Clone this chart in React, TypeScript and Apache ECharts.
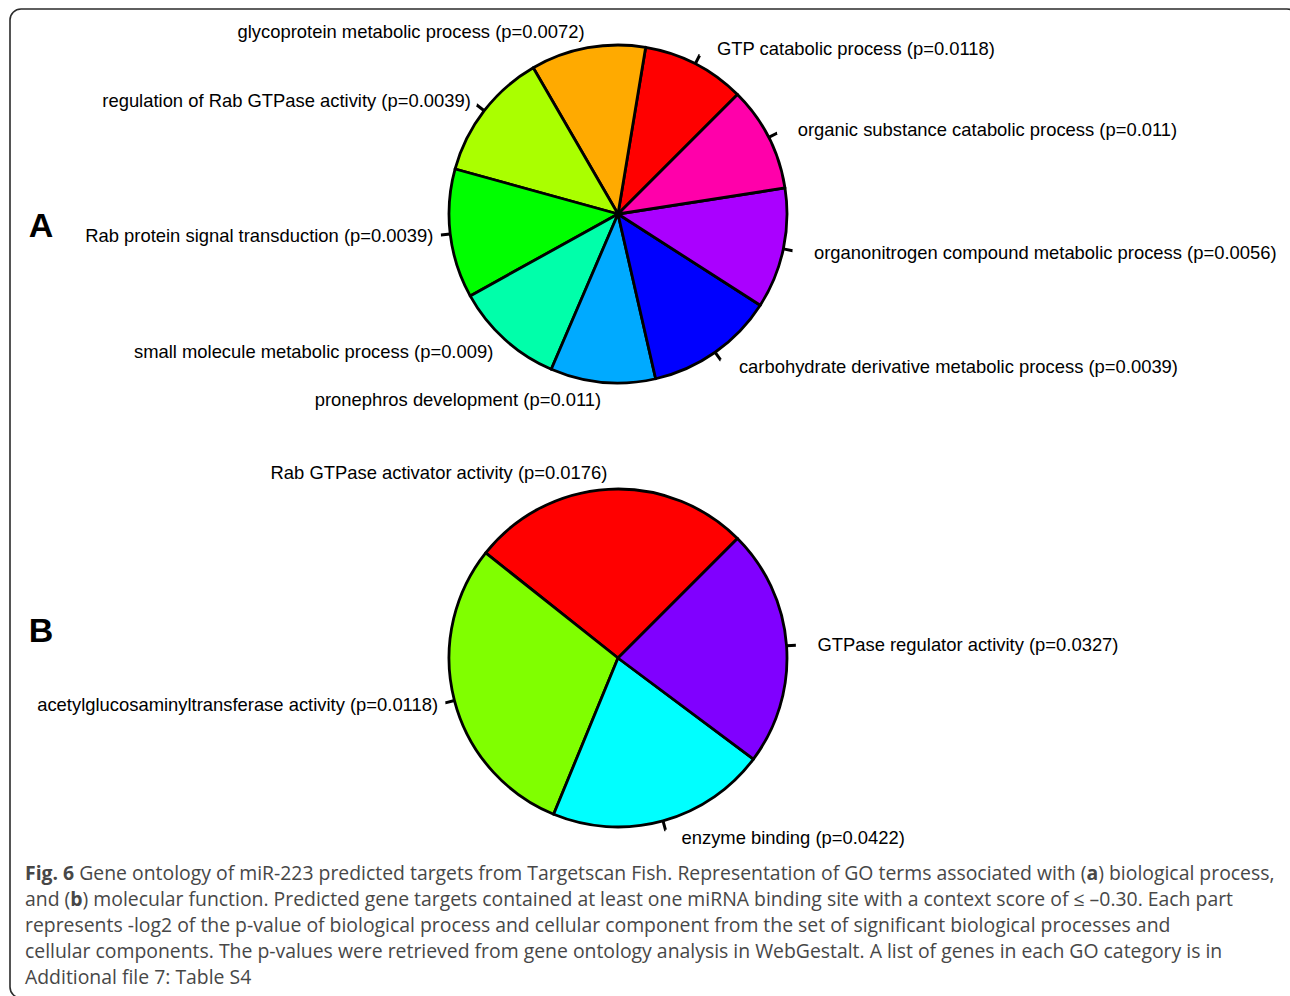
import React, { useEffect, useRef } from "react";
import * as echarts from "echarts";

// Panel A: biological process (slice size = -log2(p))
const termsA = [
  "GTP catabolic process",
  "glycoprotein metabolic process",
  "regulation of Rab GTPase activity",
  "Rab protein signal transduction",
  "small molecule metabolic process",
  "pronephros development",
  "carbohydrate derivative metabolic process",
  "organonitrogen compound metabolic process",
  "organic substance catabolic process",
];
const pValuesA = ["0.0118", "0.0072", "0.0039", "0.0039", "0.009", "0.011", "0.0039", "0.0056", "0.011"];
const valuesA = [6.405, 7.118, 8.002, 8.002, 6.796, 6.506, 8.002, 7.48, 6.506];
const colorsA = ["#FF0000", "#FFAA00", "#AAFF00", "#00FF00", "#00FFAA", "#00AAFF", "#0000FF", "#AA00FF", "#FF00AA"];

// Panel B: molecular function
const termsB = [
  "Rab GTPase activator activity",
  "acetylglucosaminyltransferase activity",
  "enzyme binding",
  "GTPase regulator activity",
];
const pValuesB = ["0.0176", "0.0118", "0.0422", "0.0327"];
const valuesB = [5.828, 6.405, 4.567, 4.935];
const colorsB = ["#FF0000", "#80FF00", "#00FFFF", "#8000FF"];

const panelLetters = ["A", "B"];

const captionLines = [
  "{b|Fig. 6} Gene ontology of miR-223 predicted targets from Targetscan Fish. Representation of GO terms associated with ({b|a}) biological process,",
  "and ({b|b}) molecular function. Predicted gene targets contained at least one miRNA binding site with a context score of \u2264 \u20130.30. Each part",
  "represents -log2 of the p-value of biological process and cellular component from the set of significant biological processes and",
  "cellular components. The p-values were retrieved from gene ontology analysis in WebGestalt. A list of genes in each GO category is in",
  "Additional file 7: Table S4",
];

const LABEL_FONT = "'Liberation Sans', Arial, Helvetica, sans-serif";
const CAPTION_FONT = "'Open Sans', 'Noto Sans', sans-serif";

function pieSeries(
  terms: string[],
  pvals: string[],
  values: number[],
  colors: string[],
  center: number[],
  radius: number
) {
  const common = {
    type: "pie",
    center,
    radius,
    startAngle: 45,
    clockwise: false,
    avoidLabelOverlap: false,
    silent: true,
    emphasis: { disabled: true },
  };
  const main = {
    ...common,
    z: 2,
    data: values.map((v, i) => ({
      name: `${terms[i]} (p=${pvals[i]})`,
      value: v,
      itemStyle: { color: colors[i] },
    })),
    itemStyle: { borderColor: "#000", borderWidth: 2.8 },
    label: {
      show: true,
      position: "outside",
      formatter: "{b}",
      color: "#000",
      fontFamily: LABEL_FONT,
      fontSize: 18.4,
      distanceToLabelLine: 0,
      padding: [0, 0, 0, 14],
    },
    labelLine: { show: false, length: radius * 0.1, length2: 0.01 },
  };
  const ticks = {
    ...common,
    z: 1,
    data: values.map((v, i) => ({ name: terms[i], value: v })),
    itemStyle: { color: "rgba(0,0,0,0)", borderWidth: 0 },
    label: { show: true, position: "outside", formatter: " ", fontSize: 2, color: "rgba(0,0,0,0)" },
    labelLine: {
      show: true,
      length: radius * 0.055,
      length2: 0.01,
      lineStyle: { color: "#000", width: 3 },
    },
  };
  return [ticks, main];
}

export default function App() {
  const ref = useRef<HTMLDivElement>(null);
  useEffect(() => {
    if (!ref.current) return;
    const chart = echarts.init(ref.current, null, { renderer: "svg" });
    const captionColor = "#474747";
    chart.setOption({
      animation: false,
      backgroundColor: "#ffffff",
      series: [
        ...pieSeries(termsA, pValuesA, valuesA, colorsA, [618, 214], 169),
        ...pieSeries(termsB, pValuesB, valuesB, colorsB, [618, 658], 169),
      ],
      graphic: [
        {
          type: "rect",
          shape: { x: 10, y: 9, width: 1288, height: 989, r: 11 },
          style: { fill: "none", stroke: "#2b2b2b", lineWidth: 1.6 },
          silent: true,
        },
        {
          type: "text",
          style: {
            x: 41,
            y: 225,
            text: panelLetters[0],
            font: `bold 34px ${LABEL_FONT}`,
            fill: "#000",
            align: "center",
            verticalAlign: "middle",
          },
        },
        {
          type: "text",
          style: {
            x: 41,
            y: 630,
            text: panelLetters[1],
            font: `bold 34px ${LABEL_FONT}`,
            fill: "#000",
            align: "center",
            verticalAlign: "middle",
          },
        },
        ...captionLines.map((line, i) => ({
          type: "text",
          style: {
            x: 25,
            y: 872 + i * 26,
            text: line,
            fontFamily: CAPTION_FONT,
            fontSize: 19.4,
            fill: captionColor,
            align: "left",
            verticalAlign: "middle",
            rich: {
              b: {
                fontFamily: CAPTION_FONT,
                fontSize: 19.4,
                fontWeight: "bold",
                fill: captionColor,
              },
            },
          },
        })),
      ],
    });
    return () => chart.dispose();
  }, []);
  return (
    <div
      ref={ref}
      style={{ position: "fixed", left: 0, top: 0, width: 1290, height: 996, background: "#fff" }}
    />
  );
}
